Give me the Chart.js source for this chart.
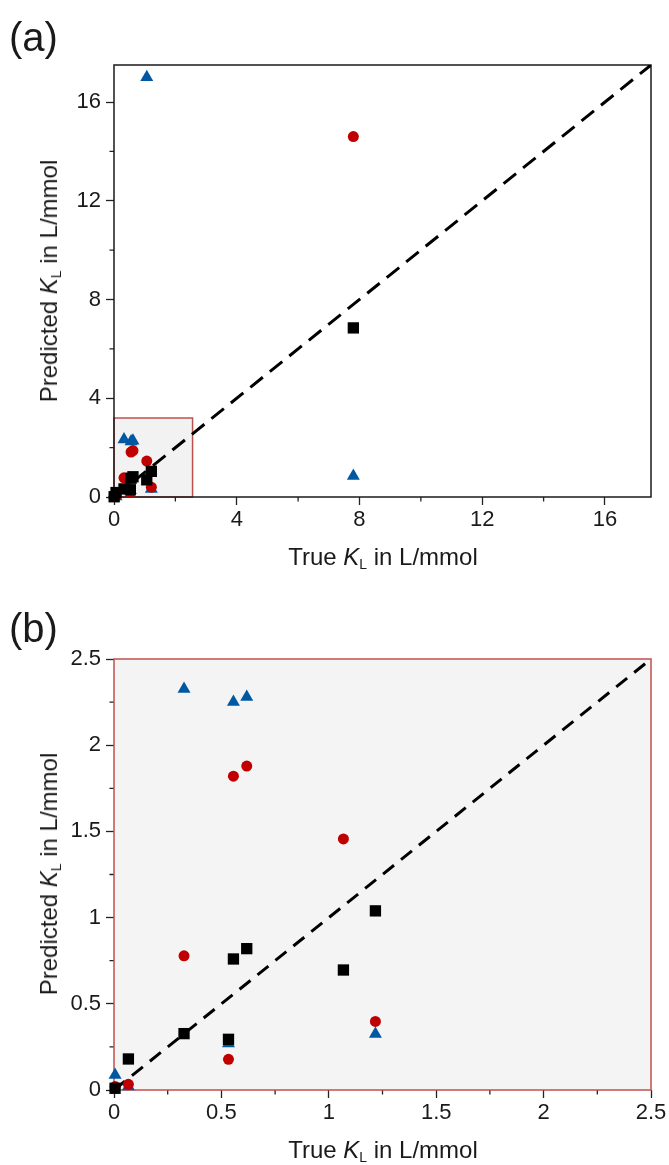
<!DOCTYPE html>
<html>
<head>
<meta charset="utf-8">
<script src="https://cdn.jsdelivr.net/npm/chart.js@4.4.1/dist/chart.umd.min.js"></script>
<style>
html,body{margin:0;padding:0;background:#fff;width:669px;height:1165px;overflow:hidden;font-family:"Liberation Sans",Arial,sans-serif;color:#1a1a1a;}
.wrap{position:absolute;left:0;width:669px;}
canvas{display:block;}
.plabel{position:absolute;font-size:40px;line-height:40px;white-space:nowrap;}
.xt{position:absolute;font-size:24px;line-height:24px;white-space:nowrap;transform:translateX(-50%);}
.yt{position:absolute;font-size:24px;line-height:24px;white-space:nowrap;transform:translate(-50%,-50%) rotate(-90deg);}
.xt i,.yt i{font-style:italic;}
.xt sub,.yt sub{font-size:0.58em;line-height:0;vertical-align:-0.3em;}
</style>
</head>
<body>
<div class="wrap" style="top:0;height:600px;"><canvas id="cA" width="669" height="600"></canvas></div>
<div class="wrap" style="top:600px;height:565px;"><canvas id="cB" width="669" height="565"></canvas></div>

<div class="plabel" style="left:9px;top:17px;">(a)</div>
<div class="plabel" style="left:9px;top:608px;">(b)</div>
<div class="xt" style="left:383px;top:545px;">True <i>K</i><sub>L</sub> in L/mmol</div>
<div class="yt" style="left:49px;top:281px;">Predicted <i>K</i><sub>L</sub> in L/mmol</div>
<div class="xt" style="left:383px;top:1138px;">True <i>K</i><sub>L</sub> in L/mmol</div>
<div class="yt" style="left:49px;top:874px;">Predicted <i>K</i><sub>L</sub> in L/mmol</div>

<script>
// ---- data ----
const trueKL       = [0.005, 0.067, 0.326, 0.533, 0.556, 0.618, 1.068, 1.217, 7.8];
const predSquare   = [0.01, 0.18, 0.327, 0.294, 0.76, 0.82, 0.696, 1.039, 6.85];
const predCircle   = [0.02, 0.033, 0.778, 0.178, 1.82, 1.879, 1.456, 0.398, 14.6];
const predTriangle = [0.087, 0.02, 2.326, 0.27, 2.25, 2.28, 17.0, 0.325, 0.85];

const ticksA = [0, 4, 8, 12, 16];
const minorA = [2, 6, 10, 14];
const axisMaxA = 17.5;
const ticksB = [0, 0.5, 1, 1.5, 2, 2.5];
const minorB = [0.25, 0.75, 1.25, 1.75, 2.25];
const axisMaxB = 2.5;
const zoomBoxA = [2.56, 3.2];   // extent of the zoomed region marked in (a)

const FONT = '"Liberation Sans", Arial, sans-serif';
const pts = (ys) => trueKL.map((x, i) => ({x, y: ys[i]}));

const decoPlugin = {
  id: 'deco',
  beforeDraw(chart, args, o) {
    const {ctx, chartArea: a} = chart;
    if (o.fill) {
      ctx.save();
      ctx.fillStyle = o.fill;
      ctx.fillRect(a.left, a.top, a.right - a.left, a.bottom - a.top);
      ctx.restore();
    }
  },
  beforeDatasetsDraw(chart, args, o) {
    const {ctx, chartArea: a, scales: {x, y}} = chart;
    ctx.save();
    if (o.box) {
      const l = x.getPixelForValue(0), r = x.getPixelForValue(o.box[0]);
      const t = y.getPixelForValue(o.box[1]), b = y.getPixelForValue(0);
      ctx.fillStyle = o.boxFill;
      ctx.fillRect(l, t, r - l, b - t);
      ctx.strokeStyle = o.boxStroke;
      ctx.lineWidth = 1.5;
      ctx.strokeRect(l, t, r - l, b - t);
    }
    // minor ticks
    ctx.strokeStyle = '#222';
    ctx.lineWidth = 1.3;
    ctx.beginPath();
    (o.minor || []).forEach(v => {
      const px = x.getPixelForValue(v);
      ctx.moveTo(px, a.bottom); ctx.lineTo(px, a.bottom + 4.5);
      const py = y.getPixelForValue(v);
      ctx.moveTo(a.left, py); ctx.lineTo(a.left - 4.5, py);
    });
    ctx.stroke();
    // frame
    ctx.strokeStyle = o.frame;
    ctx.lineWidth = 1.5;
    ctx.strokeRect(a.left, a.top, a.right - a.left, a.bottom - a.top);
    ctx.restore();
  }
};

function makeChart(id, opt) {
  const tickFont = {family: FONT, size: 22};
  const scaleCommon = (ticks) => ({
    type: 'linear',
    min: 0,
    max: opt.max,
    afterBuildTicks: (s) => { s.ticks = ticks.map(v => ({value: v})); },
    ticks: {font: tickFont, color: '#1a1a1a', callback: (v) => String(v), includeBounds: false},
    grid: {display: true, drawOnChartArea: false, drawTicks: true, tickLength: 8, tickColor: '#222', tickWidth: 1.3},
    border: {display: false}
  });
  const xs = scaleCommon(opt.ticks);
  xs.ticks.padding = 2;
  xs.afterFit = (s) => { s.height = opt.xh; };
  const ys = scaleCommon(opt.ticks);
  ys.ticks.padding = 5;
  ys.afterFit = (s) => { s.width = 114; };

  const mk = (data, style, color, r, order) => ({
    data, pointStyle: style, pointRadius: r, pointHoverRadius: r,
    backgroundColor: color, borderColor: color, borderWidth: 0,
    showLine: false, order, clip: opt.clip
  });

  return new Chart(document.getElementById(id), {
    type: 'scatter',
    data: {
      datasets: [
        mk(pts(predSquare), 'rect', '#000000', 8, 1),
        mk(pts(predCircle), 'circle', '#c00000', 5.5, 2),
        mk(pts(predTriangle), 'triangle', '#0058a3', 7.5, 3),
        {
          data: [{x: 0, y: 0}, {x: opt.max, y: opt.max}],
          showLine: true, borderColor: '#000', borderWidth: 3,
          borderDash: opt.dash, pointRadius: 0, order: 4, clip: 0
        }
      ]
    },
    options: {
      responsive: false,
      animation: false,
      events: [],
      layout: {autoPadding: false, padding: {left: 0, right: 18, top: opt.top, bottom: 0}},
      plugins: {
        legend: {display: false},
        tooltip: {enabled: false},
        deco: opt.deco
      },
      scales: {x: xs, y: ys}
    },
    plugins: [decoPlugin]
  });
}

makeChart('cA', {
  max: axisMaxA, ticks: ticksA, top: 65, xh: 103, dash: [16, 9],
  clip: false,
  deco: {frame: '#1a1a1a', minor: minorA, box: zoomBoxA, boxFill: '#f2f2f2', boxStroke: '#c0504d'}
});
makeChart('cB', {
  max: axisMaxB, ticks: ticksB, top: 59, xh: 75, dash: [14, 9],
  clip: {left: 12, top: 12, right: 12, bottom: 12},
  deco: {frame: '#c0504d', minor: minorB, fill: '#f4f4f4'}
});
</script>
</body>
</html>
